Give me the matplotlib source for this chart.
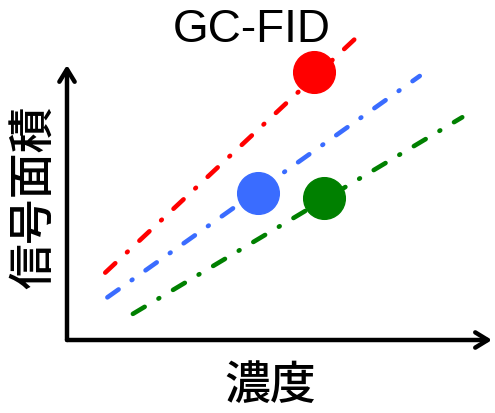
import matplotlib.pyplot as plt

plt.rcParams['font.family'] = ['Noto Sans CJK JP', 'DejaVu Sans']

# data (arbitrary concentration / signal units)
series_colors = ['#ff0000', '#3a6cff', '#008000']
line_x = [[0.9, 6.95], [0.95, 8.3], [1.55, 9.3]]
line_y = [[2.45, 11.2], [1.55, 9.6], [0.95, 8.1]]
point_x = [5.8, 4.5, 6.05]
point_y = [9.75, 5.35, 5.15]

title = 'GC-FID'
xlabel = '濃度'
ylabel = '信号面積'

fig = plt.figure(figsize=(4.95, 4.13), dpi=100)
ax = fig.add_axes([67 / 495, 73 / 413, 425 / 495, 275 / 413])
ax.set_xlim(0, 10)
ax.set_ylim(0, 10)
ax.axis('off')

# dash pattern is in units of line width
for xs, ys, c in zip(line_x, line_y, series_colors):
    ax.plot(xs, ys, color=c, lw=3.3, linestyle=(0, (3.0, 3.5, 0.2, 3.5)),
            dash_capstyle='round', clip_on=False)
for px, py, c in zip(point_x, point_y, series_colors):
    ax.plot(px, py, 'o', color=c, markersize=30, clip_on=False, zorder=3)

# axes with arrow heads
arrow = dict(arrowstyle='->,head_length=0.9,head_width=0.55', lw=3.2, color='black',
             shrinkA=0, shrinkB=0)
ax.annotate('', xy=(0, 1), xytext=(0, 0), xycoords='axes fraction', arrowprops=arrow)
ax.annotate('', xy=(1, 0), xytext=(0, 0), xycoords='axes fraction', arrowprops=arrow)

fig.text(252 / 495, 1 - 30 / 413, title, family='Liberation Sans', fontsize=33,
         ha='center', va='center')
fig.text(270 / 495, 1 - 385 / 413, xlabel, fontsize=33, weight='medium',
         ha='center', va='center')
fig.text(33 / 495, 1 - 197 / 413, ylabel, fontsize=33, weight='medium', rotation=90,
         ha='center', va='center')

fig.savefig('out.png', dpi=100)
